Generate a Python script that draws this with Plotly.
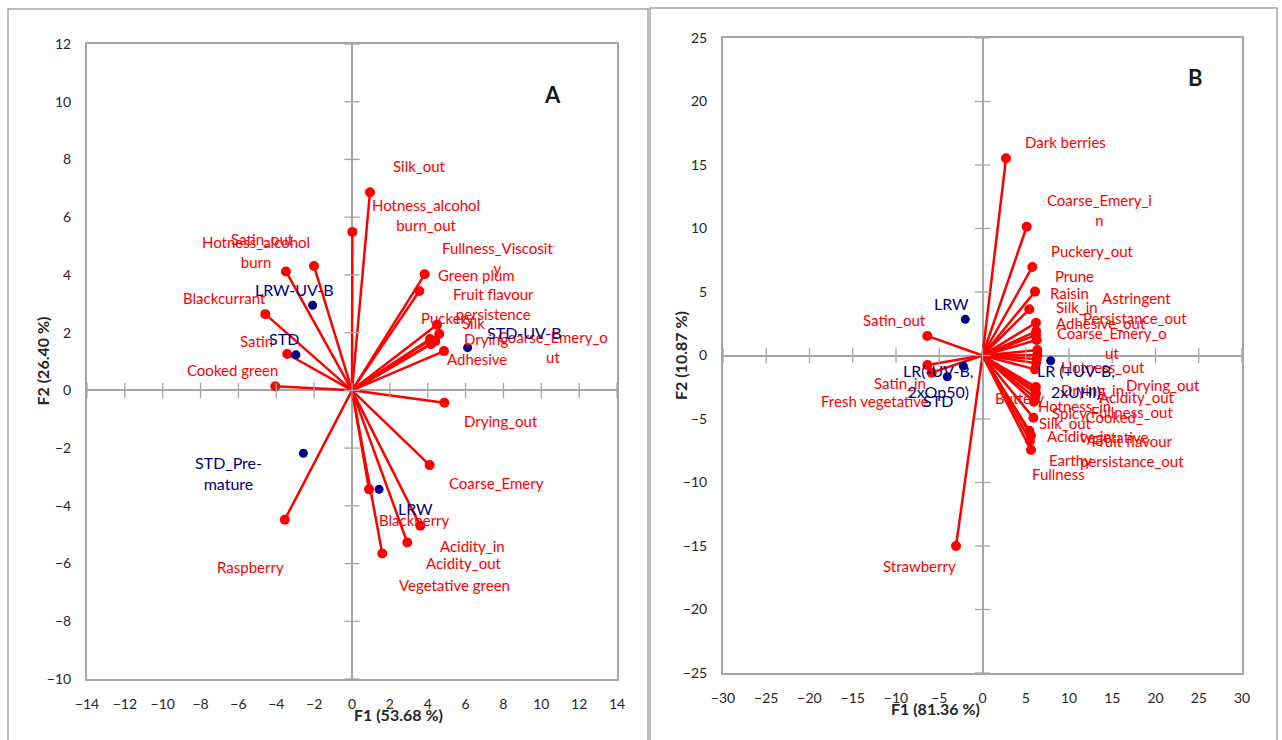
import plotly.graph_objects as go

# ---------------- Panel A data ----------------
a_var_names = ["Silk_out", "Hotness_alcohol<br>burn_out", "Fullness_Viscosit<br>y", "Green plum",
               "Fruit flavour<br>persistence", "Puckery", "Silk", "Drying", "Coarse_Emery_o<br>ut",
               "Adhesive", "Satin_out", "Hotness_alcohol<br>burn", "Blackcurrant", "Satin",
               "Cooked green", "Drying_out", "Coarse_Emery", "Blackberry", "Acidity_in",
               "Acidity_out", "Vegetative green", "Raspberry"]
a_var_x = [0.95, 0.02, 3.84, 3.56, 4.49, 4.61, 4.12, 4.17, 4.40, 4.86, -2.01, -3.49, -4.58, -3.42,
           -4.05, 4.88, 4.10, 3.61, 2.92, 1.60, 0.90, -3.55]
a_var_y = [6.86, 5.49, 4.02, 3.44, 2.27, 1.95, 1.78, 1.60, 1.70, 1.36, 4.31, 4.12, 2.64, 1.26,
           0.14, -0.43, -2.59, -4.69, -5.27, -5.65, -3.43, -4.48]
a_lab_x = [3.59, 3.91, 7.71, 6.60, 7.45, 5.02, 6.44, 7.08, 10.62, 6.60, -4.75, -5.07, -6.76, -5.02,
           -6.29, 7.87, 7.61, 3.28, 6.34, 5.92, 5.39, -5.34]
a_lab_y = [7.78, 6.07, 4.58, 4.00, 2.99, 2.51, 2.33, 1.78, 1.50, 1.09, 5.24, 4.79, 3.20, 1.71,
           0.70, -1.07, -3.21, -4.50, -5.40, -5.98, -6.74, -6.12]

a_obs_names = ["LRW-UV-B", "STD", "STD-UV-B", "STD_Pre-<br>mature", "LRW"]
a_obs_x = [-2.08, -2.96, 6.11, -2.57, 1.43]
a_obs_y = [2.95, 1.23, 1.48, -2.18, -3.43]
a_obs_lx = [-3.06, -3.59, 9.09, -6.50, 3.38]
a_obs_ly = [3.51, 1.78, 2.02, -2.87, -4.08]

a_xticks = [-14, -12, -10, -8, -6, -4, -2, 0, 2, 4, 6, 8, 10, 12, 14]
a_yticks = [-10, -8, -6, -4, -2, 0, 2, 4, 6, 8, 10, 12]

# ---------------- Panel B data ----------------
b_var_names = ["Dark berries", "Coarse_Emery_i<br>n", "Puckery_out", "Prune", "Raisin", "Astringent",
               "Silk_in", "_Persistance_out", "Adhesive_out", "Coarse_Emery_o<br>ut", "Hotness_out",
               "Drying_out", "Drying_in", "Acidity_out", "Buttery", "Hotness_in", "Spicy",
               "Fullness_out", "Cooked_<br>vegetative", "Silk_out", "Acidity_in",
               "Fruit flavour<br>persistance_out", "Earthy", "Fullness", "Satin_out", "Satin_in",
               "Fresh vegetative", "Strawberry"]
b_var_x = [2.72, 5.11, 5.76, 6.07, 5.41, 6.18, 6.20, 6.18, 6.27, 6.34, 6.34, 6.27, 6.20, 6.07,
           6.18, 6.10, 6.18, 6.07, 5.95, 5.88, 5.41, 5.60, 5.49, 5.61, -6.38, -6.38, -5.87, -3.06]
b_var_y = [15.53, 10.14, 6.97, 5.03, 3.64, 2.58, 1.90, 1.61, 1.22, 0.43, 0.04, -0.28, -0.60, -1.09,
           -2.48, -2.70, -2.99, -3.32, -3.64, -4.90, -5.92, -6.30, -6.71, -7.44, 1.54, -0.75, -1.35,
           -15.00]
b_lab_x = [9.65, 13.58, 12.77, 10.58, 10.00, 17.86, 10.92, 17.28, 13.70, 14.97, 13.93, 20.87, 12.77,
           17.86, 4.22, 10.69, 10.00, 17.28, 15.30, 9.54, 11.27, 17.28, 10.12, 8.73, -10.12, -9.54,
           -12.43, -7.23]
b_lab_y = [16.81, 11.46, 8.23, 6.26, 4.92, 4.53, 3.82, 2.95, 2.56, 0.98, -0.91, -2.32, -2.72, -3.27,
           -3.35, -3.98, -4.53, -4.45, -5.63, -5.31, -6.34, -7.52, -8.23, -9.33, 2.80, -2.17,
           -3.58, -16.57]

b_obs_names = ["LRW", "LR(-UV-B,<br>2xOp50)", "STD", "LR (+UV-B,<br>2xUHI)"]
b_obs_x = [-1.99, -2.22, -4.07, 7.88]
b_obs_y = [2.85, -0.83, -1.67, -0.41]
b_obs_lx = [-3.53, -5.14, -5.14, 10.81]
b_obs_ly = [4.13, -1.97, -3.58, -1.97]

b_xticks = [-30, -25, -20, -15, -10, -5, 0, 5, 10, 15, 20, 25, 30]
b_yticks = [-25, -20, -15, -10, -5, 0, 5, 10, 15, 20, 25]

RED = "#ff0000"
NAVY = "#000080"
GREY = "#a6a6a6"
FONT = "Lato"

fig = go.Figure()


def add_panel(xa, ya, vx, vy, vnames, lx, ly, ox, oy, onames, olx, oly, xt, yt):
    # vectors from origin
    lx_s, ly_s = [], []
    for x, y in zip(vx, vy):
        lx_s += [0, x, None]
        ly_s += [0, y, None]
    fig.add_trace(go.Scatter(x=lx_s, y=ly_s, mode="lines", xaxis=xa, yaxis=ya,
                             line=dict(color=RED, width=2.5), hoverinfo="skip", showlegend=False))
    fig.add_trace(go.Scatter(x=vx, y=vy, mode="markers", xaxis=xa, yaxis=ya,
                             marker=dict(color=RED, size=10), hoverinfo="skip", showlegend=False))
    fig.add_trace(go.Scatter(x=ox, y=oy, mode="markers", xaxis=xa, yaxis=ya,
                             marker=dict(color=NAVY, size=9), hoverinfo="skip", showlegend=False))
    # cross tick marks on the zero lines
    fig.add_trace(go.Scatter(x=xt, y=[0] * len(xt), mode="markers", xaxis=xa, yaxis=ya,
                             marker=dict(symbol="line-ns", size=11, line=dict(color=GREY, width=1.3)),
                             hoverinfo="skip", showlegend=False))
    fig.add_trace(go.Scatter(x=[0] * len(yt), y=yt, mode="markers", xaxis=xa, yaxis=ya,
                             marker=dict(symbol="line-ew", size=11, line=dict(color=GREY, width=1.3)),
                             hoverinfo="skip", showlegend=False))
    for n, x, y in zip(vnames, lx, ly):
        fig.add_annotation(x=x, y=y, xref=xa, yref=ya, text=n, showarrow=False,
                           font=dict(family=FONT, size=15, color=RED))
    for n, x, y in zip(onames, olx, oly):
        fig.add_annotation(x=x, y=y, xref=xa, yref=ya, text=n, showarrow=False,
                           font=dict(family=FONT, size=16, color=NAVY))


add_panel("x", "y", a_var_x, a_var_y, a_var_names, a_lab_x, a_lab_y,
          a_obs_x, a_obs_y, a_obs_names, a_obs_lx, a_obs_ly, a_xticks, a_yticks)
add_panel("x2", "y2", b_var_x, b_var_y, b_var_names, b_lab_x, b_lab_y,
          b_obs_x, b_obs_y, b_obs_names, b_obs_lx, b_obs_ly, b_xticks, b_yticks)

W, H = 1282, 740


def ax(rng, ticks, dom):
    return dict(range=rng, tickvals=ticks, domain=dom, showgrid=False,
                zeroline=True, zerolinecolor=GREY, zerolinewidth=2,
                showline=True, mirror=True, linecolor=GREY, linewidth=2,
                ticks="outside", ticklen=11, tickcolor="rgba(0,0,0,0)",
                tickfont=dict(family=FONT, size=14, color="#262626"), fixedrange=True)


layout = dict(
    width=W, height=H, margin=dict(l=0, r=0, t=0, b=0, pad=0, autoexpand=False),
    paper_bgcolor="white", plot_bgcolor="white", showlegend=False,
    xaxis=ax([-14, 14], a_xticks, [87 / W, 617 / W]),
    yaxis=ax([-10, 12], a_yticks, [1 - 679 / H, 1 - 44 / H]),
    xaxis2=ax([-30, 30], b_xticks, [723 / W, 1242 / W]),
    yaxis2=ax([-25, 25], b_yticks, [1 - 673 / H, 1 - 38 / H]),
)
layout["xaxis"]["anchor"] = "y"
layout["yaxis"]["anchor"] = "x"
layout["xaxis2"]["anchor"] = "y2"
layout["yaxis2"]["anchor"] = "x2"
fig.update_layout(**layout)

# outer frames
fig.add_shape(type="rect", xref="paper", yref="paper", x0=8 / W, x1=648 / W, y0=-0.05, y1=1 - 9 / H,
              line=dict(color=GREY, width=1.5))
fig.add_shape(type="rect", xref="paper", yref="paper", x0=650 / W, x1=1277 / W, y0=-0.05, y1=1 - 8 / H,
              line=dict(color=GREY, width=1.5))

# axis titles and panel letters
titles = [
    (352 / W, 1 - 726 / H, "F1 (53.68 %)", 0),
    (30 / W, 1 - 361 / H, "F2 (26.40 %)", -90),
    (982 / W, 1 - 720 / H, "F1 (81.36 %)", 0),
    (680 / W, 1 - 356 / H, "F2 (10.87 %)", -90),
]
for x, y, t, ang in titles:
    fig.add_annotation(x=x, y=y, xref="paper", yref="paper", text="<b>" + t + "</b>",
                       showarrow=False, textangle=ang,
                       font=dict(family=FONT, size=16, color="#262626"))
fig.add_annotation(x=552 / W, y=1 - 79 / H, xref="paper", yref="paper", text="<b>A</b>",
                   showarrow=False, font=dict(family=FONT, size=22, color="#1a1a1a"))
fig.add_annotation(x=1205 / W, y=1 - 62 / H, xref="paper", yref="paper", text="<b>B</b>",
                   showarrow=False, font=dict(family=FONT, size=22, color="#1a1a1a"))

fig.write_html("out.html", config={"displayModeBar": False},
               post_script="document.body.style.margin='0';document.body.style.overflow='hidden';")
